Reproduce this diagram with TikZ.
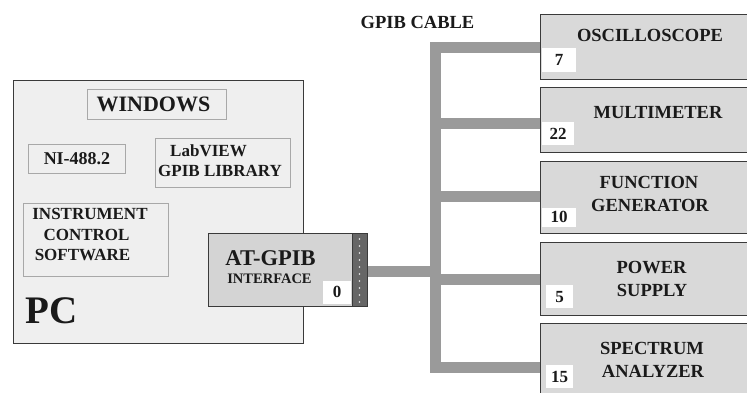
\documentclass[tikz,border=0pt]{standalone}
\usepackage{fontspec}
\setmainfont{Liberation Serif}
\definecolor{pcfill}{HTML}{EFEFEF}
\definecolor{instfill}{HTML}{D9D9D9}
\definecolor{atfill}{HTML}{D4D4D4}
\definecolor{cablecol}{HTML}{9A9A9A}
\definecolor{innerborder}{HTML}{A8A8A8}
\definecolor{bordercol}{HTML}{3A3A3A}
\definecolor{stripcol}{HTML}{666666}
\definecolor{textcol}{HTML}{1A1A1A}
\begin{document}
\begin{tikzpicture}[x=1pt,y=-1pt,
  every node/.style={text=textcol},
  outerbox/.style={draw=bordercol, line width=1.3pt, inner sep=0pt, anchor=north west},
  instbox/.style={outerbox, fill=instfill},
  innerbox/.style={draw=innerborder, line width=1pt, fill=pcfill, inner sep=0pt, anchor=north west},
  numbox/.style={fill=white, inner sep=0pt, anchor=north west, font=\fontsize{17}{20}\bfseries\selectfont},
  instlabel/.style={anchor=base, inner sep=0pt, font=\fontsize{18.5}{22}\bfseries\selectfont},
  pclabel/.style={anchor=base, inner sep=0pt, font=\fontsize{17}{20}\bfseries\selectfont},
  cable/.style={draw=cablecol, line width=11pt, line join=miter}]
\clip (0,0) rectangle (747,392);
\fill[white] (0,0) rectangle (747,392);

% PC
\node[outerbox, fill=pcfill, minimum width=290pt, minimum height=263pt] (pc) at (13,80) {};
\node[innerbox, minimum width=139pt, minimum height=30pt] (win) at (87,89) {};
\node[innerbox, minimum width=97pt, minimum height=29pt] (ni) at (28,144) {};
\node[innerbox, minimum width=135pt, minimum height=49pt] (lv) at (155,138) {};
\node[innerbox, minimum width=145pt, minimum height=73pt] (ics) at (23,203) {};
\node[anchor=base, inner sep=0pt, font=\fontsize{22}{26}\bfseries\selectfont] (wint) at (153.5,111.5) {WINDOWS};
\node[pclabel, font=\fontsize{18}{20}\bfseries\selectfont] (nit) at (77,164) {NI-488.2};
\node[pclabel] (lvt1) at (208.5,156.5) {LabVIEW};
\node[pclabel] (lvt2) at (220,176) {GPIB LIBRARY};
\node[pclabel] (icst1) at (90,219) {INSTRUMENT};
\node[pclabel] (icst2) at (86.5,240) {CONTROL};
\node[pclabel] (icst3) at (82.5,260) {SOFTWARE};
\node[anchor=base west, inner sep=0pt, font=\fontsize{39}{44}\bfseries\selectfont] (pct) at (25,323) {PC};

% cable
\coordinate (busTop) at (435,47.5);
\coordinate (busBot) at (435,367.5);
\coordinate (oscB) at (540,47.5);
\coordinate (specB) at (540,367.5);
\coordinate (mJ) at (435,123);
\coordinate (mB) at (540,123);
\coordinate (fJ) at (435,196.5);
\coordinate (fB) at (540,196.5);
\coordinate (pJ) at (435,279);
\coordinate (pB) at (540,279);
\coordinate (aJ) at (435,271);
\coordinate (aB) at (366,271);
\draw[cable] (oscB) -- (busTop) -- (busBot) -- (specB);
\draw[cable] (mJ) -- (mB);
\draw[cable] (fJ) -- (fB);
\draw[cable] (pJ) -- (pB);
\draw[cable] (aB) -- (aJ);

% AT-GPIB
\node[outerbox, fill=atfill, minimum width=144pt, minimum height=73pt] (at) at (208,233) {};
\node[outerbox, fill=stripcol, minimum width=15pt, minimum height=73pt] (strip) at (352,233) {};
\foreach \yy in {239,246,...,302} \fill[white!85!gray] (359.5,\yy) circle (0.9pt);
\node[numbox, minimum width=28pt, minimum height=23pt] (zero) at (323,280.5) {0};
\node[anchor=base, inner sep=0pt, font=\fontsize{22.5}{26}\bfseries\selectfont] (att) at (270.5,265) {AT-GPIB};
\node[anchor=base, inner sep=0pt, font=\fontsize{14.5}{17}\bfseries\selectfont] (intt) at (269.5,283) {INTERFACE};

% instruments
\node[instbox, minimum width=230pt, minimum height=65pt] (osc) at (540,14) {};
\node[instbox, minimum width=230pt, minimum height=65pt] (mult) at (540,87) {};
\node[instbox, minimum width=230pt, minimum height=72pt] (func) at (540,161) {};
\node[instbox, minimum width=230pt, minimum height=73pt] (pow) at (540,242) {};
\node[instbox, minimum width=230pt, minimum height=80pt] (spec) at (540,323) {};

\node[numbox, minimum width=34pt, minimum height=24pt] (n7) at (542,48) {7};
\node[numbox, minimum width=32pt, minimum height=23pt] (n22) at (542,122) {22};
\node[numbox, minimum width=34pt, minimum height=19pt] (n10) at (542,207.5) {10};
\node[numbox, minimum width=27pt, minimum height=23pt] (n5) at (546,285) {5};
\node[numbox, minimum width=27pt, minimum height=23pt] (n15) at (546,365) {15};

\node[instlabel] (gpibt) at (417.5,28) {GPIB CABLE};
\node[instlabel] (osct) at (650,41.7) {OSCILLOSCOPE};
\node[instlabel] (multt) at (658,118) {MULTIMETER};
\node[instlabel] (funct1) at (649,188) {FUNCTION};
\node[instlabel] (funct2) at (650,211.5) {GENERATOR};
\node[instlabel] (powt1) at (651.5,273) {POWER};
\node[instlabel] (powt2) at (652,296) {SUPPLY};
\node[instlabel] (spect1) at (652,354) {SPECTRUM};
\node[instlabel] (spect2) at (653,377) {ANALYZER};
\end{tikzpicture}
\end{document}
